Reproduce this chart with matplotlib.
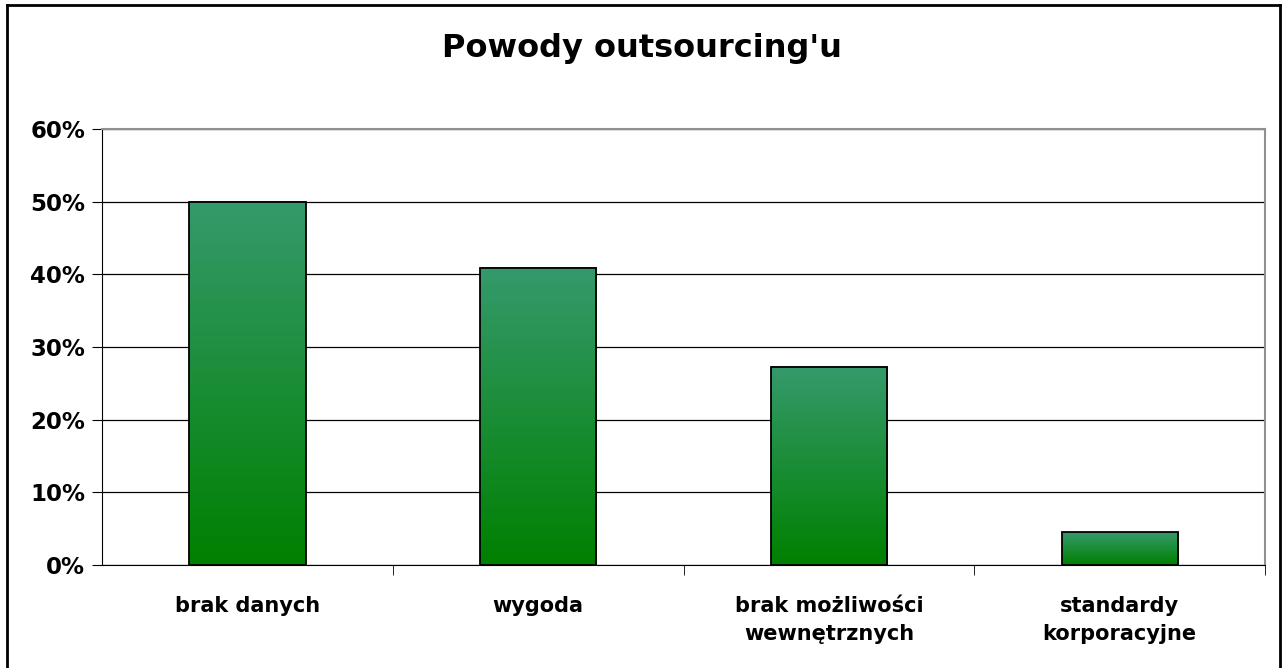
import numpy as np
import matplotlib.pyplot as plt
from matplotlib.colors import LinearSegmentedColormap
from matplotlib.patches import Rectangle
from matplotlib.ticker import PercentFormatter

categories = ["brak danych", "wygoda", "brak możliwości\nwewnętrznych", "standardy\nkorporacyjne"]
values = [50.0, 40.9, 27.3, 4.5]
yticks = [0, 10, 20, 30, 40, 50, 60]

plt.rcParams["font.family"] = ["DejaVu Sans"]
plt.rcParams["font.weight"] = "bold"

fig = plt.figure(figsize=(12.83, 6.68), dpi=100)
ax = fig.add_axes([0.0795, 0.154, 0.9065, 0.653])

# outer chart frame (no bottom edge visible in reference)
fig.add_artist(plt.Line2D([0.0055, 0.0055], [0, 0.9925], color="black", lw=2, transform=fig.transFigure))
fig.add_artist(plt.Line2D([0.0055, 0.998], [0.9925, 0.9925], color="black", lw=2, transform=fig.transFigure))
fig.add_artist(plt.Line2D([0.998, 0.998], [0, 0.9925], color="black", lw=2, transform=fig.transFigure))

cmap = LinearSegmentedColormap.from_list("grn", ["#008000", "#359a6c"])
grad = np.linspace(0, 1, 256).reshape(-1, 1)
width = 0.4

ax.set_xlim(-0.5, len(categories) - 0.5)
ax.set_ylim(0, 60)

for i, v in enumerate(values):
    ax.imshow(grad, cmap=cmap, origin="lower", aspect="auto",
              extent=(i - width / 2, i + width / 2, 0, v), zorder=2)
    ax.add_patch(Rectangle((i - width / 2, 0), width, v, fill=False,
                           edgecolor="black", lw=1.3, zorder=3))

ax.set_yticks(yticks)
ax.yaxis.set_major_formatter(PercentFormatter(decimals=0))
ax.grid(axis="y", color="black", lw=0.9, zorder=1)
ax.set_axisbelow(True)

ax.set_xticks(np.arange(len(categories)))
ax.set_xticklabels(categories, fontsize=15, fontweight="bold", linespacing=1.5)
ax.tick_params(axis="x", length=0, pad=22)
ax.set_xticks(np.arange(len(categories)) + 0.5, minor=True)
ax.tick_params(axis="x", which="minor", length=7, direction="out", color="black")
ax.tick_params(axis="y", length=7, direction="out", labelsize=16.5, pad=5)
for lbl in ax.get_yticklabels():
    lbl.set_fontweight("bold")

ax.spines["left"].set_color("black")
ax.spines["bottom"].set_color("black")
ax.spines["top"].set_color("#909090")
ax.spines["right"].set_color("#909090")
ax.spines["top"].set_linewidth(1.5)
ax.spines["right"].set_linewidth(1.5)

fig.text(0.5, 0.927, "Powody outsourcing'u", ha="center", va="center",
         fontsize=23, fontweight="bold")

fig.savefig("out.png", dpi=100)
